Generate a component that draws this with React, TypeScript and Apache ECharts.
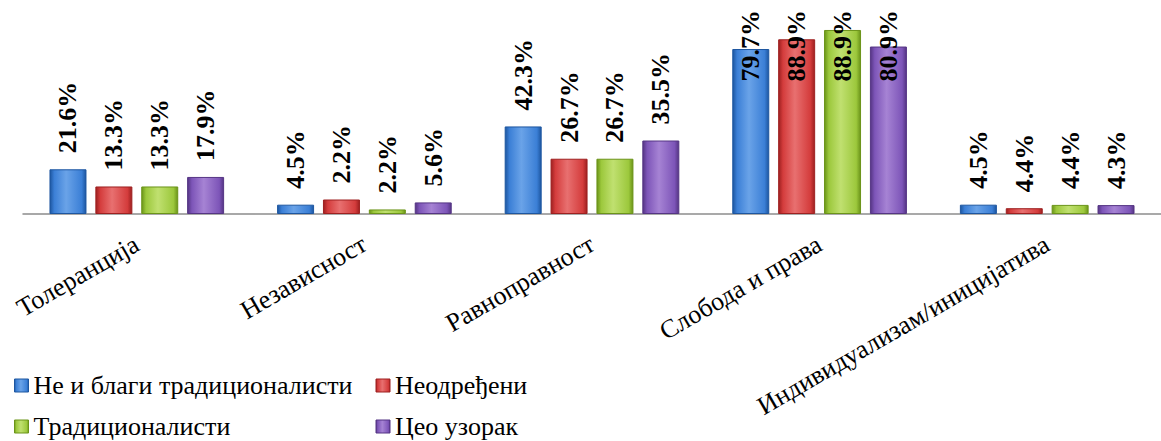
import React, { useEffect, useRef } from "react";
import * as echarts from "echarts";

const categories = [
  "Толеранција",
  "Независност",
  "Равноправност",
  "Слобода и права",
  "Индивидуализам/иницијатива",
];

const seriesNames = [
  "Не и благи традиционалисти",
  "Неодређени",
  "Традиционалисти",
  "Цео узорак",
];

// bar heights
const blueValues = [21.6, 4.5, 42.3, 79.7, 4.5];
const redValues = [13.3, 7.0, 26.7, 84.4, 2.8];
const greenValues = [13.3, 2.2, 26.7, 88.9, 4.4];
const purpleValues = [17.9, 5.6, 35.5, 80.9, 4.3];

// data label texts as printed on the chart
const blueLabels = ["21.6%", "4.5%", "42.3%", "79.7%", "4.5%"];
const redLabels = ["13.3%", "2.2%", "26.7%", "88.9%", "4.4%"];
const greenLabels = ["13.3%", "2.2%", "26.7%", "88.9%", "4.4%"];
const purpleLabels = ["17.9%", "5.6%", "35.5%", "80.9%", "4.3%"];

const SERIF = "Liberation Serif";

const palette = [
  { edge: "#1d56a0", mid: "#3b7fd6", light: "#6aa3e8" },
  { edge: "#9e2020", mid: "#d43c3c", light: "#e87070" },
  { edge: "#6b9419", mid: "#9cc83c", light: "#c0e070" },
  { edge: "#553584", mid: "#7d55b8", light: "#a683d4" },
];

function barFill(p: { edge: string; mid: string; light: string }) {
  return new echarts.graphic.LinearGradient(0, 0, 1, 0, [
    { offset: 0, color: p.edge },
    { offset: 0.12, color: p.mid },
    { offset: 0.45, color: p.light },
    { offset: 0.88, color: p.mid },
    { offset: 1, color: p.edge },
  ]);
}

export default function App() {
  const ref = useRef<HTMLDivElement>(null);
  useEffect(() => {
    if (!ref.current) return;
    const chart = echarts.init(ref.current, undefined, { renderer: "svg" });
    const values = [blueValues, redValues, greenValues, purpleValues];
    const labels = [blueLabels, redLabels, greenLabels, purpleLabels];
    const series = values.map((vals, si) => ({
      name: seriesNames[si],
      type: "bar",
      data: vals,
      barWidth: 37,
      barGap: "24%",
      itemStyle: {
        color: barFill(palette[si]),
        borderColor: palette[si].edge,
        borderWidth: 1,
      },
      label: {
        show: true,
        position: "top",
        distance: 16,
        rotate: 90,
        align: "left",
        verticalAlign: "middle",
        fontFamily: SERIF,
        fontWeight: "bold",
        fontSize: 26,
        color: "#000",
        formatter: (p: any) => labels[si][p.dataIndex],
      },
      labelLayout: (p: any) => {
        const top = 10;
        if (p.labelRect && p.labelRect.y < top) {
          // label is rotated 90deg: its local x axis points up
          return { dx: -(top - p.labelRect.y) };
        }
        return {};
      },
    }));
    chart.setOption({
      animation: false,
      grid: { left: 23, right: -6, top: 7, bottom: 227, containLabel: false },
      legend: {
        left: 14,
        top: 370,
        padding: 0,
        width: 720,
        itemGap: 10,
        itemWidth: 14,
        itemHeight: 13,
        icon: "rect",
        textStyle: {
          fontFamily: SERIF,
          fontSize: 26,
          color: "#000",
          width: 332,
          lineHeight: 31,
        },
        data: seriesNames.map((n, i) => ({
          name: n,
          itemStyle: { color: barFill(palette[i]), borderColor: palette[i].edge, borderWidth: 1 },
        })),
      },
      xAxis: {
        type: "category",
        data: categories,
        axisLine: { lineStyle: { color: "#8c8c8c", width: 1.5 } },
        axisTick: { show: false },
        axisLabel: {
          interval: 0,
          rotate: 30,
          margin: 28,
          fontFamily: SERIF,
          fontSize: 26,
          color: "#000",
        },
      },
      yAxis: {
        type: "value",
        min: 0,
        max: 100,
        show: false,
      },
      series,
    });
    return () => chart.dispose();
  }, []);
  return (
    <div
      ref={ref}
      style={{ position: "fixed", left: 0, top: 0, width: 1161, height: 441, background: "#fff" }}
    />
  );
}
